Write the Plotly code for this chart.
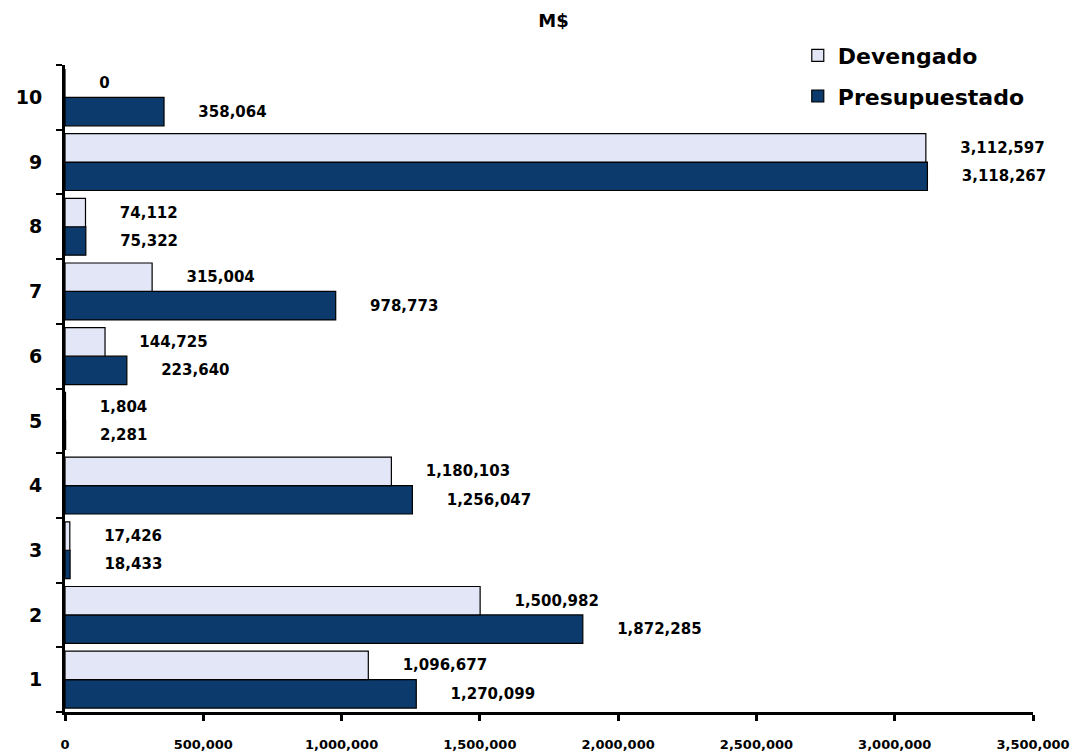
import plotly.graph_objects as go

categories = ["1", "2", "3", "4", "5", "6", "7", "8", "9", "10"]
devengado = [1096677, 1500982, 17426, 1180103, 1804, 144725, 315004, 74112, 3112597, 0]
presupuestado = [1270099, 1872285, 18433, 1256047, 2281, 223640, 978773, 75322, 3118267, 358064]
x_ticks = [0, 500000, 1000000, 1500000, 2000000, 2500000, 3000000, 3500000]

FONT = "DejaVu Sans"

fig = go.Figure()
fig.add_trace(go.Bar(
    name="Presupuestado", y=categories, x=presupuestado, orientation="h",
    legendgroup="p", legendrank=2,
    marker=dict(color="#0d3a6c", line=dict(color="black", width=1.2)),
    text=presupuestado, texttemplate="      %{x:,}", textposition="outside",
    textfont=dict(family=FONT, size=15, color="black", weight="bold"),
    cliponaxis=False,
))
fig.add_trace(go.Bar(
    name="Devengado", y=categories, x=devengado, orientation="h",
    legendgroup="d", legendrank=1,
    marker=dict(color="#e3e6f6", line=dict(color="black", width=1.2)),
    text=devengado, texttemplate="      %{x:,}", textposition="outside",
    textfont=dict(family=FONT, size=15, color="black", weight="bold"),
    cliponaxis=False,
))

fig.update_layout(
    width=1091, height=756,
    paper_bgcolor="white", plot_bgcolor="white",
    barmode="group", bargap=0.12, bargroupgap=0.0,
    margin=dict(l=57, r=66, t=57, b=52, autoexpand=False),
    title=dict(text="M$", x=0.5, xanchor="center", yref="container",
               y=0.992, yanchor="top",
               font=dict(family=FONT, size=18, color="black", weight="bold")),
    font=dict(family=FONT, color="black"),
    legend=dict(x=0.757, xanchor="left", y=1.047, yanchor="top",
                traceorder="grouped", bgcolor="rgba(0,0,0,0)",
                font=dict(family=FONT, size=22, color="black", weight="bold"),
                tracegroupgap=9),
    xaxis=dict(range=[0, 3500000], tickvals=x_ticks, tickformat=",",
               automargin=False,
               showgrid=False, zeroline=False, showline=True, linecolor="black",
               linewidth=3, ticks="outside", ticklen=6, tickwidth=3,
               tickcolor="black", ticklabelstandoff=12,
               tickfont=dict(family=FONT, size=13, color="black", weight="bold")),
    yaxis=dict(type="category", categoryorder="array", categoryarray=categories,
               automargin=False,
               showgrid=False, showline=True, linecolor="black", linewidth=3,
               ticks="outside", tickson="boundaries", ticklen=6, tickwidth=2,
               tickcolor="black", ticklabelstandoff=16,
               tickfont=dict(family=FONT, size=19, color="black", weight="bold")),
)

fig.write_html("out.html")
